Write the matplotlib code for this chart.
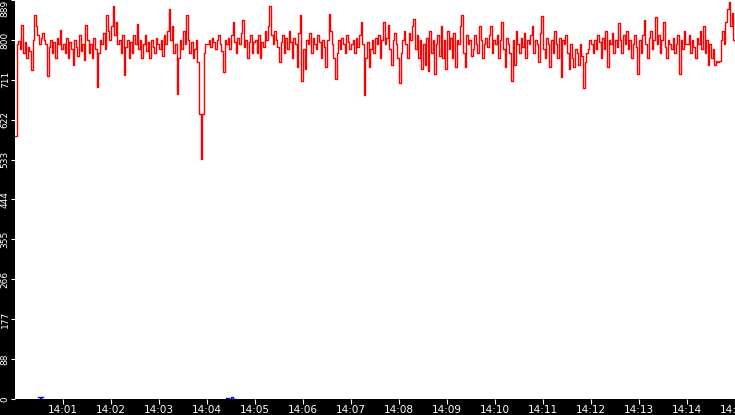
import matplotlib
matplotlib.use("Agg")
import matplotlib.pyplot as plt
import numpy as np

# sample every 2 s from 14:00:00, one row per minute
rate = [
    # 14:00
    585, 790, 798, 780, 833, 770, 795, 760, 785, 775, 733, 800, 856, 830, 812,
    790, 805, 815, 800, 790, 720, 785, 800, 770, 795, 760, 805, 790, 822, 780,
    # 14:01
    790, 770, 805, 760, 795, 780, 745, 800, 785, 765, 810, 775, 790, 755, 833,
    800, 770, 790, 760, 805, 780, 696, 770, 800, 790, 815, 780, 856, 820, 800,
    # 14:02
    830, 875, 810, 840, 790, 800, 770, 810, 722, 785, 800, 760, 795, 770, 810,
    790, 835, 780, 800, 760, 790, 810, 775, 795, 760, 800, 785, 770, 805, 790,
    # 14:03
    780, 800, 765, 810, 790, 820, 869, 800, 830, 770, 790, 680, 760, 800, 780,
    820, 790, 855, 800, 770, 795, 760, 780, 800, 750, 635, 535, 636, 770, 790,
    # 14:04
    790, 800, 785, 805, 795, 780, 800, 810, 790, 775, 729, 800, 790, 805, 780,
    810, 840, 795, 770, 805, 790, 815, 844, 785, 800, 760, 795, 810, 770, 795,
    # 14:05
    800, 770, 810, 760, 795, 785, 820, 800, 830, 875, 810, 790, 820, 800, 785,
    750, 795, 810, 770, 805, 780, 820, 795, 760, 805, 790, 740, 815, 855, 709,
    # 14:06
    780, 735, 800, 790, 815, 770, 805, 790, 780, 810, 795, 760, 800, 785, 740,
    800, 858, 820, 790, 760, 713, 770, 800, 780, 805, 790, 770, 810, 795, 780,
    # 14:07
    790, 800, 770, 805, 785, 810, 840, 790, 678, 760, 795, 740, 780, 800, 770,
    805, 790, 810, 760, 800, 840, 790, 805, 833, 780, 745, 800, 815, 790, 760,
    # 14:08
    703, 770, 800, 820, 790, 760, 815, 800, 830, 846, 780, 810, 760, 800, 735,
    790, 745, 805, 730, 820, 770, 800, 725, 790, 810, 765, 830, 760, 800, 735,
    # 14:09
    820, 780, 805, 760, 815, 740, 800, 790, 830, 856, 770, 740, 810, 790, 800,
    765, 780, 810, 790, 770, 830, 800, 760, 790, 805, 785, 810, 830, 770, 800,
    # 14:10
    790, 810, 760, 800, 840, 780, 740, 805, 790, 770, 709, 800, 745, 820, 790,
    770, 805, 785, 815, 760, 800, 790, 810, 830, 770, 800, 790, 750, 815, 853,
    # 14:11
    780, 760, 805, 790, 740, 800, 770, 820, 790, 760, 805, 718, 800, 790, 810,
    770, 735, 790, 760, 740, 780, 770, 745, 790, 765, 694, 750, 770, 780, 800,
    # 14:12
    790, 770, 800, 780, 810, 795, 760, 805, 780, 820, 740, 800, 790, 815, 770,
    800, 785, 838, 800, 770, 810, 790, 820, 780, 800, 760, 790, 810, 785, 725,
    # 14:13
    800, 770, 810, 844, 790, 760, 805, 820, 780, 800, 851, 790, 810, 770, 800,
    840, 785, 760, 800, 790, 780, 805, 770, 790, 810, 725, 800, 780, 820, 790,
    # 14:14
    790, 810, 770, 800, 785, 760, 805, 790, 820, 780, 831, 770, 800, 745, 790,
    760, 780, 745, 752, 750, 752, 800, 820, 790, 840, 870, 885, 830, 860, 800,
    # 14:15
    790,
]
rate_t = np.arange(len(rate)) * 2

# short blue blips near zero
blue_t = [29, 31, 33, 35, 264, 267, 270, 273, 276]
blue_v = [4, 1, 4, np.nan, 3, 1, 4, 1, np.nan]

y_ticks = np.arange(11) * 88.9
y_labels = [str(int(v)) for v in y_ticks]
x_ticks = np.arange(60, 901, 60)
x_labels = ["14:%02d" % (s // 60) for s in x_ticks]

fig = plt.figure(figsize=(7.35, 4.15), dpi=100, facecolor="black")
ax = fig.add_axes([15 / 735, 16 / 415, 720 / 735, 399 / 415])
ax.set_facecolor("white")

ax.step(rate_t, rate, where="post", color="#ff0000", lw=1.0)
ax.step(blue_t, blue_v, where="post", color="#0000ff", lw=1.0)

ax.set_xlim(0, 900)
ax.set_ylim(0, 889)

for s in ax.spines.values():
    s.set_visible(False)

ax.set_xticks(x_ticks)
ax.set_xticklabels(x_labels)
ax.set_yticks(y_ticks)
ax.set_yticklabels(y_labels, rotation=90, va="center")
ax.get_yticklabels()[-1].set_va("top")

ax.tick_params(axis="x", colors="white", labelsize=7.5, length=3.6, width=0.8,
               pad=1.0, direction="out")
ax.tick_params(axis="y", colors="white", labelsize=6.5, length=3, width=0.8,
               pad=0.8, direction="out")

fig.savefig("out.png", dpi=100, facecolor="black")
